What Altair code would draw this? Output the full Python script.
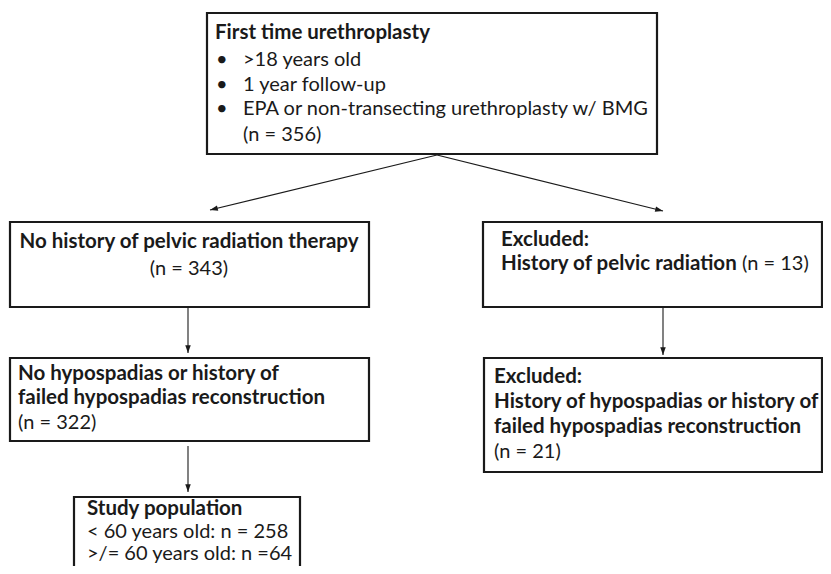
import altair as alt
import pandas as pd
import math

# ---- content ----
counts = {"start": 356, "no_rad": 343, "rad": 13, "no_hypo": 322, "hypo": 21, "lt60": 258, "ge60": 64}
criteria = [">18 years old", "1 year follow-up", "EPA or non-transecting urethroplasty w/ BMG"]

# ---- layout (reference pixel coordinates) ----
boxes = pd.DataFrame({
    "x1": [207, 10, 483, 10, 484, 74],
    "x2": [657, 369, 822, 369, 822, 300],
    "y1": [13, 222, 222, 358, 358, 497],
    "y2": [154, 307, 307, 441, 472, 600],
})

arrows = pd.DataFrame({
    "ax": [437, 437, 188, 663, 188],
    "ay": [155, 155, 307, 307, 446],
    "ax2": [210, 663, 188, 663, 188],
    "ay2": [210, 211, 353, 355, 492],
})
arrows["angle"] = [
    (math.degrees(math.atan2(r.ax2 - r.ax, -(r.ay2 - r.ay))) + 360) % 360 for r in arrows.itertuples()
]

lines = []
def add(text, x, y, bold=False, align="left"):
    lines.append({"label": text, "tx": x, "ty": y, "wt": "bold" if bold else "normal", "al": align})

add("First time urethroplasty", 215, 33, True)
for i, (c, yy) in enumerate(zip(criteria, [60, 85, 109])):
    add("•", 216, yy)
    add(c, 243, yy)
add(f"(n = {counts['start']})", 243, 135)

add("No history of pelvic radiation therapy", 189, 242, True, "center")
add(f"(n = {counts['no_rad']})", 189, 269, False, "center")

add("Excluded:", 501, 240, True)
add("History of pelvic radiation", 501, 264, True)
add(f"(n = {counts['rad']})", 742, 264)

add("No hypospadias or history of", 18, 374, True)
add("failed hypospadias reconstruction", 18, 398, True)
add(f"(n = {counts['no_hypo']})", 18, 423)

add("Excluded:", 494, 377, True)
add("History of hypospadias or history of", 494, 402, True)
add("failed hypospadias reconstruction", 494, 427, True)
add(f"(n = {counts['hypo']})", 494, 452)

add("Study population", 87, 509, True)
add(f"< 60 years old: n = {counts['lt60']}", 87, 532)
add(f">/= 60 years old: n ={counts['ge60']}", 87, 554)

text_df = pd.DataFrame(lines)

xs = alt.Scale(domain=[8, 823], nice=False, zero=False)
ys = alt.Scale(domain=[8, 566], nice=False, zero=False, reverse=True)

box_layer = alt.Chart(boxes).mark_rect(fill="white", stroke="#1a1a1a", strokeWidth=2.2).encode(
    x=alt.X("x1:Q", scale=xs, axis=None), x2="x2:Q",
    y=alt.Y("y1:Q", scale=ys, axis=None), y2="y2:Q"
)
arrow_lines = alt.Chart(arrows).mark_rule(color="#1a1a1a", strokeWidth=1.1).encode(
    x=alt.X("ax:Q", scale=xs, axis=None), y=alt.Y("ay:Q", scale=ys, axis=None), x2="ax2:Q", y2="ay2:Q"
)
arrow_heads = alt.Chart(arrows).mark_point(
    shape="M0,0L-0.42,1.2L0.42,1.2Z", filled=True, color="#1a1a1a", size=170, opacity=1
).encode(x=alt.X("ax2:Q", scale=xs, axis=None), y=alt.Y("ay2:Q", scale=ys, axis=None),
         angle=alt.Angle("angle:Q", scale=None))

font = "Lato"
sizes = {"bold": 20.5, "normal": 20}
texts = []
for w in ["bold", "normal"]:
    for a in ["left", "center"]:
        sub = text_df[(text_df["wt"] == w) & (text_df["al"] == a)]
        if len(sub) == 0:
            continue
        texts.append(
            alt.Chart(sub).mark_text(
                font=font, fontSize=sizes[w], fontWeight=w, align=a, baseline="middle", color="#1a1a1a"
            ).encode(
                x=alt.X("tx:Q", scale=xs, axis=None), y=alt.Y("ty:Q", scale=ys, axis=None),
                text="label:N"
            )
        )

chart = alt.layer(box_layer, arrow_lines, arrow_heads, *texts).properties(
    width=815, height=558, autosize="none", padding=0
).configure_view(stroke=None)

chart.save("out.html", embed_options={"renderer": "svg", "actions": False})
